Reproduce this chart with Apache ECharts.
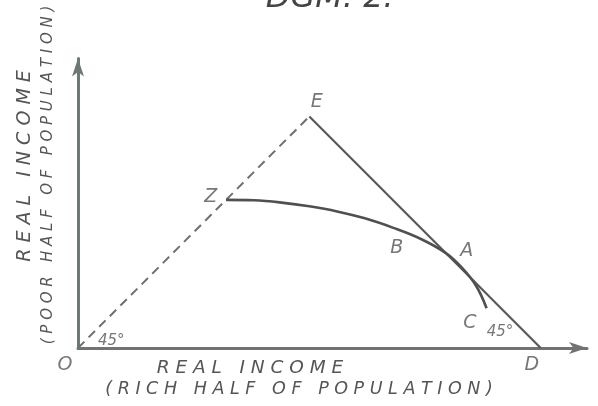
<!DOCTYPE html>
<html>
<head>
<meta charset="UTF-8">
<title>DGM. 2</title>
<script src="https://cdn.jsdelivr.net/npm/echarts@6/dist/echarts.min.js"></script>
<style>
  html, body { margin: 0; padding: 0; background: #fff; }
  #chart { width: 598px; height: 406px; }
</style>
</head>
<body>
<div id="chart"></div>
<script>
// 45 degree ray from the origin (equal incomes) and the frontier E-D
var equalRay = [[0, 0], [50, 50]];
var frontier = [[50, 50], [100, 0]];
// the curve from Z through B, touching the frontier at A, ending at C
var curveX = [32, 38, 44, 50, 56, 62, 68, 74, 79.5, 83, 86, 88.3];
var curveY = [32, 31.9, 31.4, 30.6, 29.5, 28, 26, 23.6, 20.5, 17.3, 13.5, 8.6];
// point letters and where they sit (data units)
var pointNames = ['E', 'Z', 'B', 'A', 'C', 'D', 'O'];
var pointPos = [[51.6, 53.2], [28.7, 32.6], [68.9, 21.6], [84.0, 20.9], [84.7, 5.4], [98.1, -3.7], [-2.8, -3.7]];
var angleNames = ['45°', '45°'];
var anglePos = [[7.2, 1.4], [91.2, 3.5]];

var ink = '#555';
var hand = 'DejaVu Sans';

// hand lettering is widely spaced
function spaced(s) {
  return s.split(' ').map(function (w) { return w.split('').join(' '); }).join('   ');
}

var curve = [];
for (var i = 0; i < curveX.length; i++) curve.push([curveX[i], curveY[i]]);

var labelData = [];
for (var j = 0; j < pointNames.length; j++) labelData.push({ name: pointNames[j], value: pointPos[j] });
var angleData = [];
for (var k = 0; k < angleNames.length; k++) angleData.push({ name: angleNames[k], value: anglePos[k] });

var chart = echarts.init(document.getElementById('chart'));
chart.setOption({
  animation: false,
  backgroundColor: '#fff',
  grid: { left: 78, right: 11, top: 58.6, bottom: 58 },
  xAxis: {
    type: 'value', min: 0, max: 110,
    axisLine: { show: true, symbol: ['none', 'arrow'], symbolSize: [9, 18], lineStyle: { color: '#727272', width: 3 } },
    axisTick: { show: false }, axisLabel: { show: false }, splitLine: { show: false }
  },
  yAxis: {
    type: 'value', min: 0, max: 62.5,
    axisLine: { show: true, symbol: ['none', 'arrow'], symbolSize: [9, 18], lineStyle: { color: '#6d7a73', width: 3 } },
    axisTick: { show: false }, axisLabel: { show: false }, splitLine: { show: false }
  },
  series: [
    {
      type: 'line', data: equalRay, symbol: 'none',
      lineStyle: { color: '#707070', width: 2, type: [9, 6] }
    },
    {
      type: 'line', data: frontier, symbol: 'none',
      lineStyle: { color: '#5a5a5a', width: 2.2 }
    },
    {
      type: 'line', data: curve, symbol: 'none', smooth: 0.4,
      lineStyle: { color: '#505050', width: 2.6 }
    },
    {
      type: 'scatter', data: labelData, symbolSize: 0, clip: false, silent: true,
      label: {
        show: true, position: 'inside', formatter: '{b}',
        color: ink, fontFamily: hand, fontStyle: 'italic', fontSize: 19
      }
    },
    {
      type: 'scatter', data: angleData, symbolSize: 0, clip: false, silent: true,
      label: {
        show: true, position: 'inside', formatter: '{b}',
        color: ink, fontFamily: hand, fontStyle: 'italic', fontSize: 15
      }
    }
  ],
  graphic: [
    {
      type: 'text', x: 330, y: -17,
      style: { text: 'DGM. 2:', fill: '#444', font: 'italic 32px "DejaVu Sans"', align: 'center' }
    },
    {
      type: 'text', x: 250, y: 368,
      style: { text: spaced('REAL INCOME'), fill: ink, font: 'italic 18.5px "DejaVu Sans"', align: 'center', verticalAlign: 'middle' }
    },
    {
      type: 'text', x: 299, y: 389,
      style: { text: spaced('(RICH HALF OF POPULATION)'), fill: ink, font: 'italic 17.5px "DejaVu Sans"', align: 'center', verticalAlign: 'middle' }
    },
    {
      type: 'text', x: 25, y: 166, rotation: Math.PI / 2,
      style: { text: spaced('REAL INCOME'), fill: ink, font: 'italic 19px "DejaVu Sans"', align: 'center', verticalAlign: 'middle' }
    },
    {
      type: 'text', x: 48, y: 175, rotation: Math.PI / 2,
      style: { text: spaced('(POOR HALF OF POPULATION)'), fill: ink, font: 'italic 15px "DejaVu Sans"', align: 'center', verticalAlign: 'middle' }
    }
  ]
});
</script>
</body>
</html>
